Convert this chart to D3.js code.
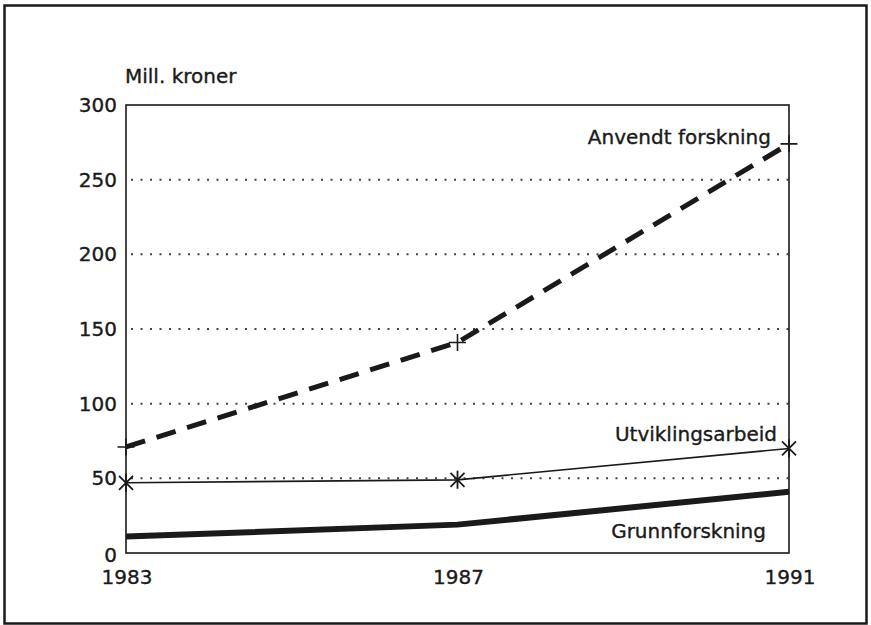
<!DOCTYPE html>
<html>
<head>
<meta charset="utf-8">
<script src="https://cdn.jsdelivr.net/npm/d3@7"></script>
<style>
  body { margin: 0; background: #fff; }
  text { font-family: "DejaVu Sans", "Liberation Sans", Arial, sans-serif; fill: #1a1a1a; stroke: #1a1a1a; stroke-width: 0.35; }
</style>
</head>
<body>
<svg id="chart" width="871" height="625"></svg>
<script>
// Data
var years = [1983, 1987, 1991];
var yTicks = [0, 50, 100, 150, 200, 250, 300];
var anvendt = [71, 141, 274];
var utvikling = [47, 49, 70];
var grunn = [11, 19, 41];

var inkColour = '#1a1a1a';
var gridColour = '#444';
var fontSize = 20;

var svg = d3.select('#chart');

// outer frame
svg.append('rect')
  .attr('x', 4.5).attr('y', 5.5)
  .attr('width', 862).attr('height', 618)
  .attr('fill', 'none')
  .attr('stroke', inkColour)
  .attr('stroke-width', 2.5);

var plotLeft = 126, plotRight = 789, plotTop = 105, plotBottom = 553;

var x = d3.scaleLinear().domain([1983, 1991]).range([plotLeft, plotRight]);
var y = d3.scaleLinear().domain([0, 300]).range([plotBottom, plotTop]);

// dotted gridlines
svg.selectAll('line.grid')
  .data(yTicks.filter(function (d) { return d > 0 && d < 300; }))
  .enter().append('line')
  .attr('class', 'grid')
  .attr('x1', plotLeft + 5).attr('x2', plotRight)
  .attr('y1', function (d) { return y(d); })
  .attr('y2', function (d) { return y(d); })
  .attr('stroke', gridColour)
  .attr('stroke-width', 2)
  .attr('stroke-dasharray', '2,7.5');

// plot box
svg.append('rect')
  .attr('x', plotLeft).attr('y', plotTop)
  .attr('width', plotRight - plotLeft).attr('height', plotBottom - plotTop)
  .attr('fill', 'none')
  .attr('stroke', inkColour)
  .attr('stroke-width', 1.6);

// y tick labels
svg.selectAll('text.ytick')
  .data(yTicks)
  .enter().append('text')
  .attr('class', 'ytick')
  .attr('x', plotLeft - 9)
  .attr('y', function (d) { return y(d) + (d === 0 ? 9 : 7); })
  .attr('text-anchor', 'end')
  .attr('font-size', fontSize)
  .text(function (d) { return d; });

// x tick labels
svg.selectAll('text.xtick')
  .data(years)
  .enter().append('text')
  .attr('class', 'xtick')
  .attr('x', function (d) { return x(d) + 1; })
  .attr('y', 584)
  .attr('text-anchor', 'middle')
  .attr('font-size', fontSize)
  .text(function (d) { return d; });

svg.append('text')
  .attr('x', plotLeft - 1).attr('y', 83)
  .attr('font-size', fontSize)
  .text('Mill. kroner');

var line = d3.line()
  .x(function (d, i) { return x(years[i]); })
  .y(function (d) { return y(d); });

svg.append('path').datum(grunn)
  .attr('d', line).attr('fill', 'none')
  .attr('stroke', inkColour).attr('stroke-width', 6);

svg.append('path').datum(utvikling)
  .attr('d', line).attr('fill', 'none')
  .attr('stroke', inkColour).attr('stroke-width', 1.6);

svg.append('path').datum(anvendt)
  .attr('d', line).attr('fill', 'none')
  .attr('stroke', inkColour).attr('stroke-width', 5)
  .attr('stroke-dasharray', '20,12');

// plus markers
anvendt.forEach(function (v, i) {
  var cx = x(years[i]), cy = y(v), s = 8.5;
  svg.append('path')
    .attr('d', 'M' + (cx - s) + ',' + cy + 'H' + (cx + s) + 'M' + cx + ',' + (cy - s) + 'V' + (cy + s))
    .attr('stroke', inkColour).attr('stroke-width', 1.6);
});

// asterisk markers
utvikling.forEach(function (v, i) {
  var cx = x(years[i]), cy = y(v), s = 9, d = 7;
  svg.append('path')
    .attr('d', 'M' + cx + ',' + (cy - s) + 'V' + (cy + s) +
      'M' + (cx - d) + ',' + (cy - d) + 'L' + (cx + d) + ',' + (cy + d) +
      'M' + (cx - d) + ',' + (cy + d) + 'L' + (cx + d) + ',' + (cy - d))
    .attr('stroke', inkColour).attr('stroke-width', 1.8);
});

// series labels
var labels = [
  { text: 'Anvendt forskning', x: 771, y: 144 },
  { text: 'Utviklingsarbeid', x: 777, y: 441 },
  { text: 'Grunnforskning', x: 766, y: 538 }
];
svg.selectAll('text.lab')
  .data(labels)
  .enter().append('text')
  .attr('class', 'lab')
  .attr('x', function (d) { return d.x; })
  .attr('y', function (d) { return d.y; })
  .attr('text-anchor', 'end')
  .attr('font-size', fontSize)
  .text(function (d) { return d.text; });
</script>
</body>
</html>
